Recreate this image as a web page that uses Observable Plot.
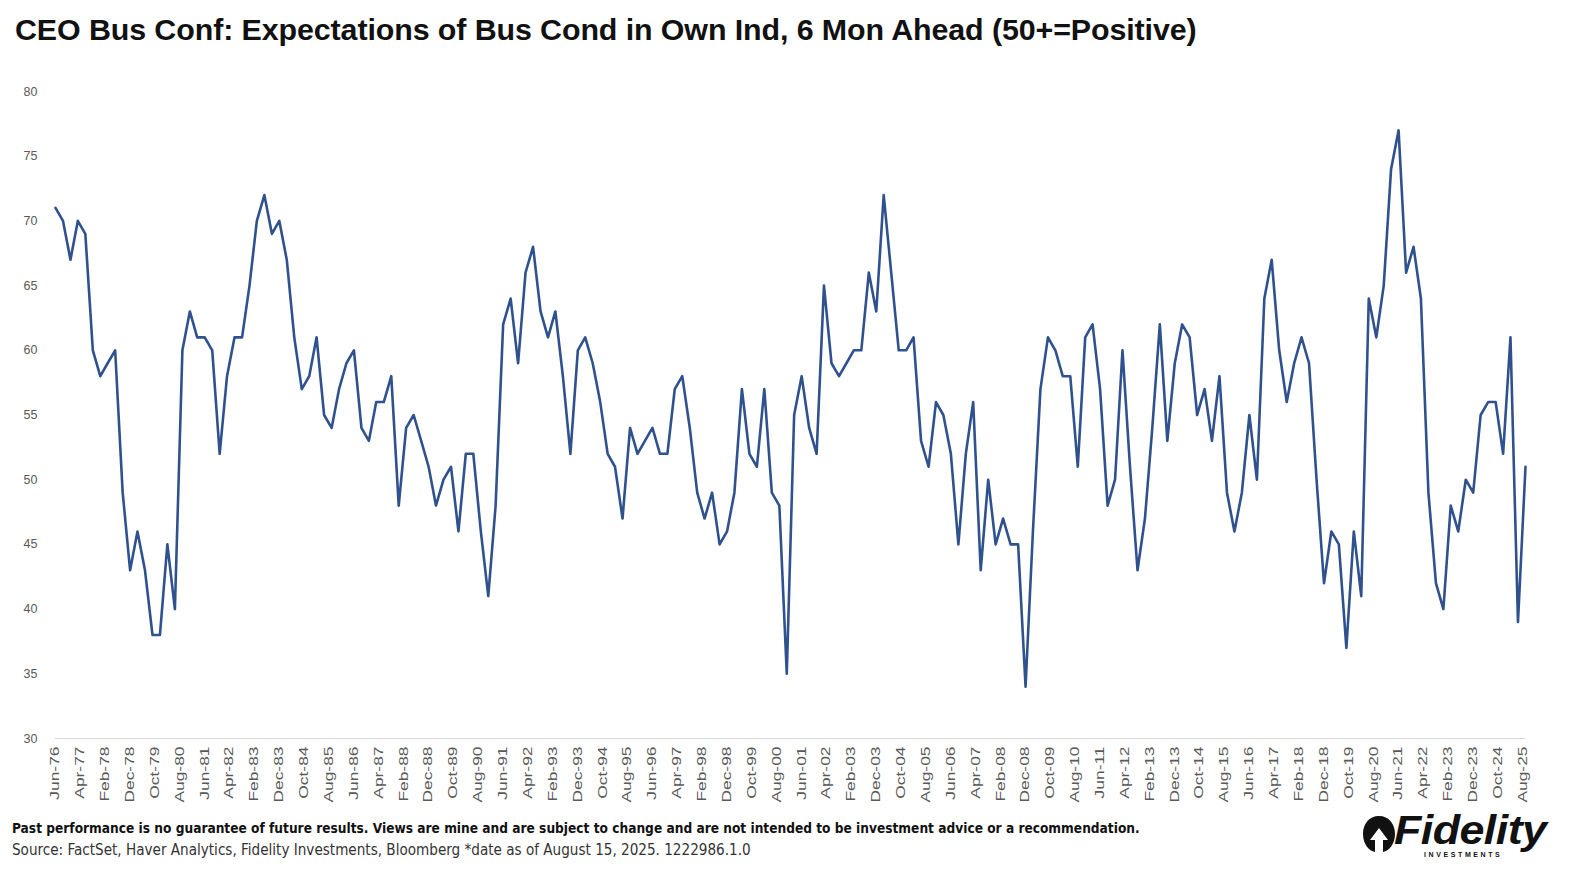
<!DOCTYPE html>
<html>
<head>
<meta charset="utf-8">
<script src="https://cdn.jsdelivr.net/npm/d3@7"></script>
<script src="https://cdn.jsdelivr.net/npm/@observablehq/plot@0.6"></script>
<style>
  html, body { margin: 0; padding: 0; background: #fff; }
  body { width: 1584px; height: 888px; overflow: hidden; position: relative; font-family: "Liberation Sans", Arial, sans-serif; }
  #title { position: absolute; left: 15px; top: 12px; font-size: 30.4px; font-weight: bold; color: #111; white-space: nowrap; letter-spacing: -0.1px; }
  #chart { position: absolute; left: 0; top: 60px; }
  #note { position: absolute; left: 12px; top: 820px; font-family: "Liberation Sans Narrow", "DejaVu Sans Condensed", sans-serif; font-size: 13.6px; font-weight: bold; color: #111; white-space: nowrap; }
  #source { position: absolute; left: 12px; top: 841px; font-family: "Liberation Sans Narrow", "DejaVu Sans Condensed", sans-serif; font-size: 15.1px; color: #333; white-space: nowrap; }
  #logo { position: absolute; left: 1360px; top: 810px; width: 190px; height: 52px; }
  #logo .fid { position: absolute; left: 34px; top: -2px; font-size: 40px; font-weight: bold; font-style: italic; color: #111; letter-spacing: -0.5px; transform: scaleX(1.12); transform-origin: left top; }
  #logo .inv { position: absolute; left: 64px; top: 41px; font-size: 7px; font-weight: bold; letter-spacing: 2.6px; color: #111; }
  #logo svg { position: absolute; left: 1px; top: 4px; }
</style>
</head>
<body>
<div id="title">CEO Bus Conf: Expectations of Bus Cond in Own Ind, 6 Mon Ahead (50+=Positive)</div>
<div id="chart"></div>
<div id="note">Past performance is no guarantee of future results. Views are mine and are subject to change and are not intended to be investment advice or a recommendation.</div>
<div id="source">Source: FactSet, Haver Analytics, Fidelity Investments, Bloomberg *date as of August 15, 2025. 1222986.1.0</div>
<div id="logo">
  <svg width="36" height="40" viewBox="0 0 36 40">
    <path d="M18 2 C8 2 2 10 2 20 C2 30 8 37 14 38 L14 26 L9 26 L18 14 L27 26 L22 26 L22 38 C28 37 34 30 34 20 C34 10 28 2 18 2 Z" fill="#111"/>
  </svg>
  <span class="fid">Fidelity</span>
  <div class="inv">INVESTMENTS</div>
</div>
<script>
// Quarterly readings, first quarter plotted at Jun-1976
const startMonth = "1976-06";
const values = [
  71,70,67,70,69,60,58,59,60,49, 43,46,43,38,38,45,40,60,63,61,
  61,60,52,58,61,61,65,70,72,69, 70,67,61,57,58,61,55,54,57,59,
  60,54,53,56,56,58,48,54,55,53, 51,48,50,51,46,52,52,46,
  41,48,62,64,59,66,68,63,61,63, 58,52,60,61,59,56,52,51,47,54, 52,53,
  54,52,52,57,58,54,49,47,49,45, 46,49,57,52,51,57,49,48,
  35,55,58,54,52,65,59,58,59,60, 60,66,63,72,66,60,60,61,53,51,
  56,55,52,45,52,56,43,50,45,47, 45,45,34,46,57,61,60,58,58,51, 61,62,
  57,48,50,60,51,43,47,54,62,53, 59,62,61,55,57,53,58,49,46,
  49,55,50,64,67,60,56,59,61,59, 50,42,46,45,37,46,41,64,61,65,
  74,77,66,68,64,49,42,40,48,46, 50,49,55,56,56,52,61,39,51
];
const xTickLabels = [
  "Jun-76","Apr-77","Feb-78","Dec-78","Oct-79","Aug-80","Jun-81","Apr-82","Feb-83","Dec-83",
  "Oct-84","Aug-85","Jun-86","Apr-87","Feb-88","Dec-88","Oct-89","Aug-90","Jun-91","Apr-92",
  "Feb-93","Dec-93","Oct-94","Aug-95","Jun-96","Apr-97","Feb-98","Dec-98","Oct-99","Aug-00",
  "Jun-01","Apr-02","Feb-03","Dec-03","Oct-04","Aug-05","Jun-06","Apr-07","Feb-08","Dec-08",
  "Oct-09","Aug-10","Jun-11","Apr-12","Feb-13","Dec-13","Oct-14","Aug-15","Jun-16","Apr-17",
  "Feb-18","Dec-18","Oct-19","Aug-20","Jun-21","Apr-22","Feb-23","Dec-23","Oct-24","Aug-25"
];
const yTicks = [30,35,40,45,50,55,60,65,70,75,80];

const parseStart = d3.utcParse("%Y-%m");
const parseTick = d3.utcParse("%b-%y");
const start = parseStart(startMonth);
const data = values.map((v, i) => ({date: d3.utcMonth.offset(start, 3 * i), value: v}));
const tickDates = xTickLabels.map(parseTick);
const fmt = d3.utcFormat("%b-%y");

const chart = Plot.plot({
  width: 1584,
  height: 748,
  marginTop: 31,
  marginBottom: 70,
  marginLeft: 55,
  marginRight: 59,
  style: {fontFamily: "'Liberation Sans', Arial, sans-serif", background: "#fff"},
  x: {type: "utc", domain: [data[0].date, data[data.length - 1].date]},
  y: {domain: [30, 80]},
  marks: [
    Plot.ruleY([30], {stroke: "#d9d9d9", strokeWidth: 1.2}),
    Plot.axisY({ticks: yTicks, tickSize: 0, tickPadding: 18, fontSize: 12.5, color: "#595959", label: null}),
    Plot.axisX({ticks: tickDates, tickFormat: fmt, tickRotate: -90, tickSize: 0, tickPadding: 8, fontSize: 12, color: "#595959", label: null}),
    Plot.line(data, {x: "date", y: "value", stroke: "#2F528F", strokeWidth: 2.6, strokeLinejoin: "round"})
  ]
});
// stretch rotated tick labels along their length, as in the reference
d3.select(chart).selectAll('g[aria-label="x-axis tick label"] text').each(function() {
  const t = this.getAttribute("transform") || "";
  this.setAttribute("transform", t + " scale(1.45,1)");
});
document.getElementById("chart").appendChild(chart);
</script>
</body>
</html>
